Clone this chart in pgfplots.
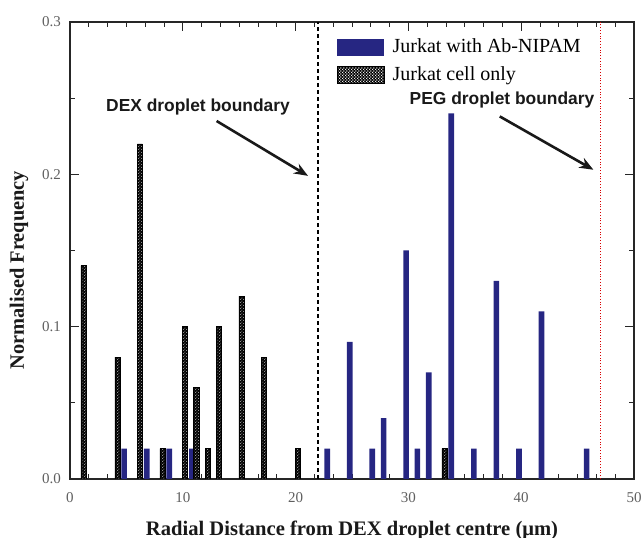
\documentclass[border=0pt]{standalone}
\usepackage{fontspec}
\setmainfont{Liberation Serif}
\newfontfamily\arialfont{Liberation Sans}
\usepackage{pgfplots}
\pgfplotsset{compat=1.18}
\usetikzlibrary{arrows.meta,patterns}

\definecolor{jurkblue}{RGB}{38,38,130}
\definecolor{ticktext}{RGB}{95,95,95}

% small white dots laid over the black bars
\pgfdeclarepatternformonly{finedots}{\pgfqpoint{0pt}{0pt}}{\pgfqpoint{1.4pt}{1.4pt}}{\pgfqpoint{1.4pt}{1.4pt}}{%
  \pgfpathcircle{\pgfqpoint{0.35pt}{0.35pt}}{0.26pt}%
  \pgfpathcircle{\pgfqpoint{1.05pt}{1.05pt}}{0.26pt}%
  \pgfusepath{fill}}

% Jurkat with Ab-NIPAM
\pgfplotstableread{
x y
4.8 0.02
6.8 0.02
8.8 0.02
10.8 0.02
22.8 0.02
24.8 0.09
26.8 0.02
27.8 0.04
29.8 0.15
30.8 0.02
31.8 0.07
33.8 0.24
35.8 0.02
37.8 0.13
39.8 0.02
41.8 0.11
45.8 0.02
}\withnipam

% Jurkat cell only
\pgfplotstableread{
x y
1.2 0.14
4.2 0.08
6.2 0.22
8.2 0.02
10.2 0.10
11.2 0.06
12.2 0.02
13.2 0.10
15.2 0.12
17.2 0.08
20.2 0.02
33.2 0.02
}\cellonly

\begin{document}
\begin{tikzpicture}
\begin{axis}[
  name=ax,
  scale only axis,
  width=282pt, height=228.5pt,
  xmin=0, xmax=50, ymin=0, ymax=0.3,
  xtick={0,10,20,30,40,50},
  ytick={0,0.1,0.2,0.3},
  minor x tick num=5,
  minor y tick num=1,
  tick align=inside,
  major tick length=4.5pt,
  minor tick length=2.5pt,
  axis line style={black!85, line width=0.6pt},
  tick style={black!85, line width=0.5pt},
  /pgf/number format/assume math mode=true,
  tick label style={font=\fontsize{7.5}{9}\selectfont, text=ticktext},
  xticklabel style={yshift=-3pt},
  yticklabel style={xshift=-1pt, /pgf/number format/.cd, fixed, fixed zerofill, precision=1},
  xlabel={Radial Distance from DEX droplet centre (μm)},
  ylabel={Normalised Frequency},
  every axis x label/.style={at={(axis description cs:0.5,-0.112)}, anchor=center,
    font=\fontsize{10.3}{12}\selectfont\bfseries, text=black!90},
  every axis y label/.style={at={(axis description cs:-0.0904,0.457)}, anchor=center, rotate=90,
    font=\fontsize{10.2}{12}\selectfont\bfseries, text=black!90},
  legend style={at={(rel axis cs:0.462,0.982)}, anchor=north west, draw=none, fill=none,
    font=\fontsize{10}{12}\selectfont, row sep=1.5pt,
    /tikz/every even column/.append style={column sep=0pt}},
  legend cell align=left,
]
\addplot[ybar, bar width=0.5, bar shift=0pt, draw=none, fill=jurkblue,
  legend image code/.code={\fill[jurkblue] (0pt,-4.25pt) rectangle (23.5pt,4.25pt);}]
  table {\withnipam};
\addlegendentry{\hspace{2pt}Jurkat with Ab-NIPAM}
\addplot[ybar, bar width=0.45, bar shift=0pt, draw=black, line width=0.3pt, fill=black,
  postaction={pattern=finedots, pattern color=white},
  legend image code/.code={\fill[black] (0pt,-4.25pt) rectangle (23.5pt,4.25pt);
    \fill[pattern=finedots, pattern color=white] (0pt,-4.25pt) rectangle (23.5pt,4.25pt);}]
  table {\cellonly};
\addlegendentry{\hspace{2pt}Jurkat cell only}
% droplet boundaries
\addplot[forget plot, black, line width=0.7pt, dash pattern=on 2pt off 1.5pt] coordinates {(22,0) (22,0.3)};
\addplot[forget plot, red!85!black, line width=0.5pt, dash pattern=on 0.5pt off 0.9pt] coordinates {(47,0) (47,0.3)};
% annotations
\node[font=\arialfont\bfseries\fontsize{8.7}{10}\selectfont, text=black!90] at (axis cs:11.35,0.2445) {DEX droplet boundary};
\draw[-{Stealth[length=7pt,width=5.5pt]}, line width=1.3pt, black!90] (axis cs:13.0,0.235) -- (axis cs:21.1,0.199);
\node[font=\arialfont\bfseries\fontsize{8.7}{10}\selectfont, text=black!90] at (axis cs:38.3,0.2485) {PEG droplet boundary};
\draw[-{Stealth[length=7pt,width=5.5pt]}, line width=1.3pt, black!90] (axis cs:38.1,0.238) -- (axis cs:46.4,0.203);
\end{axis}
\pgfresetboundingbox
\path ([shift={(-35pt,-29.5pt)}]ax.south west) rectangle ([shift={(4pt,11pt)}]ax.north east);
\end{tikzpicture}
\end{document}
